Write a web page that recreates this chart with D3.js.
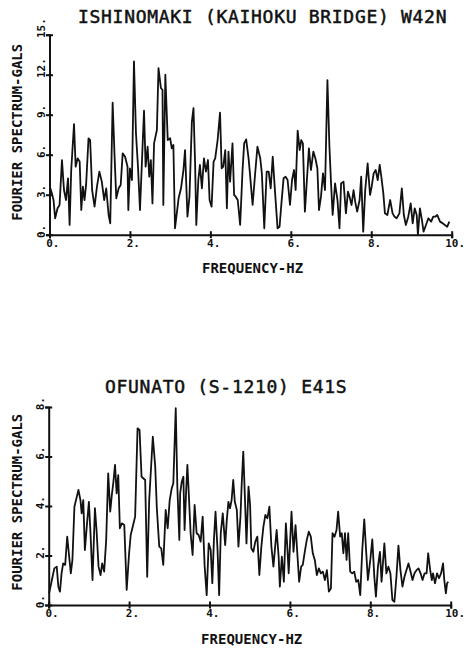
<!DOCTYPE html>
<html>
<head>
<meta charset="utf-8">
<script src="https://cdn.jsdelivr.net/npm/d3@7"></script>
<style>
  html, body { margin: 0; padding: 0; background: #fff; }
  svg text { font-family: 'DejaVu Sans Mono', monospace; fill: #111; }
</style>
</head>
<body>
<svg id="chart" width="466" height="649"></svg>
<script>
// ---- data ----
const xTicks = [0, 2, 4, 6, 8, 10];

const ishiTitle = 'ISHINOMAKI (KAIHOKU BRIDGE) W42N';
const ishiYTicks = [0, 3, 6, 9, 12, 15];
const ishiFreq = [
  0.02, 0.06, 0.10, 0.14, 0.20, 0.25, 0.31, 0.36, 0.41, 0.46, 0.50, 0.54, 0.61, 0.65, 0.70, 0.75,
  0.79, 0.83, 0.87, 0.91, 0.97, 1.01, 1.06, 1.12, 1.18, 1.24, 1.30, 1.36, 1.41, 1.47, 1.51, 1.57,
  1.62, 1.66, 1.72, 1.77, 1.82, 1.88, 1.94, 1.96, 2.00, 2.05, 2.10, 2.15, 2.20, 2.25, 2.31, 2.35,
  2.39, 2.44, 2.48, 2.52, 2.56, 2.60, 2.67, 2.71, 2.77, 2.81, 2.83, 2.88, 2.94, 3.00, 3.04, 3.08,
  3.12, 3.21, 3.27, 3.33, 3.37, 3.43, 3.48, 3.54, 3.58, 3.62, 3.65, 3.70, 3.74, 3.79, 3.84, 3.89,
  3.94, 3.98, 4.03, 4.08, 4.12, 4.18, 4.24, 4.28, 4.32, 4.37, 4.41, 4.45, 4.49, 4.55, 4.59, 4.63,
  4.68, 4.74, 4.80, 4.84, 4.89, 4.95, 4.99, 5.05, 5.11, 5.17, 5.24, 5.28, 5.34, 5.40, 5.45, 5.50,
  5.55, 5.61, 5.67, 5.72, 5.77, 5.82, 5.87, 5.92, 5.98, 6.03, 6.08, 6.12, 6.17, 6.22, 6.26, 6.30,
  6.35, 6.40, 6.45, 6.50, 6.56, 6.61, 6.66, 6.70, 6.75, 6.80, 6.85, 6.91, 6.96, 7.00, 7.04, 7.10,
  7.16, 7.21, 7.25, 7.31, 7.37, 7.42, 7.46, 7.51, 7.56, 7.60, 7.65, 7.71, 7.75, 7.80, 7.85, 7.91,
  7.97, 8.01, 8.06, 8.11, 8.16, 8.21, 8.25, 8.30, 8.34, 8.40, 8.47, 8.53, 8.58, 8.63, 8.70, 8.76,
  8.81, 8.86, 8.92, 8.98, 9.03, 9.08, 9.13, 9.16, 9.21, 9.26, 9.30, 9.36, 9.42, 9.49, 9.54, 9.59,
  9.64, 9.71, 9.78, 9.83, 9.89, 9.94,
];
const ishiAmp = [
  3.48, 3.10, 2.60, 1.23, 1.98, 2.23, 5.60, 3.35, 2.60, 4.23, 0.73, 4.85, 8.30, 5.10, 5.73, 5.48,
  1.85, 3.60, 2.60, 3.73, 7.23, 7.10, 3.35, 2.10, 3.60, 4.73, 3.98, 2.60, 3.48, 1.48, 0.85, 9.90,
  5.73, 2.73, 3.48, 3.73, 6.10, 5.85, 5.10, 1.85, 4.98, 4.10, 13.0, 7.60, 5.10, 1.85, 6.35, 9.30,
  5.10, 6.60, 4.35, 5.60, 2.35, 6.85, 7.85, 12.5, 11.0, 10.85, 2.23, 12.0, 7.10, 7.23, 6.48, 6.73,
  0.48, 2.73, 3.48, 4.85, 6.35, 1.35, 2.85, 8.48, 9.50, 5.35, 0.73, 4.10, 5.23, 3.48, 5.73, 4.73,
  5.60, 2.60, 2.10, 5.48, 5.73, 7.10, 9.15, 4.98, 5.10, 6.35, 1.98, 6.23, 3.98, 6.85, 2.98, 2.85,
  2.60, 0.73, 4.85, 6.85, 7.15, 5.73, 4.35, 2.23, 4.48, 6.60, 5.73, 4.60, 0.48, 4.73, 4.73, 3.48,
  5.85, 3.10, 0.48, 0.60, 2.48, 4.23, 4.35, 4.10, 2.23, 4.10, 4.85, 3.35, 7.80, 6.35, 7.10, 6.85,
  1.73, 4.10, 6.48, 4.85, 6.23, 5.73, 4.98, 1.85, 2.85, 4.60, 3.35, 11.6, 6.60, 3.85, 1.48, 3.85,
  2.60, 0.48, 3.85, 3.98, 1.60, 3.23, 2.85, 2.23, 3.35, 2.48, 1.73, 2.60, 4.35, 0.23, 3.35, 5.35,
  2.98, 3.60, 4.60, 4.85, 4.10, 5.23, 4.35, 3.10, 1.60, 1.48, 2.60, 1.60, 1.35, 1.23, 1.60, 3.48,
  1.48, 0.73, 1.35, 2.35, 0.85, 1.98, 1.48, 0.00, 1.98, 1.10, 0.23, 0.73, 1.23, 0.98, 1.35, 1.35,
  1.48, 0.98, 0.85, 0.73, 0.60, 0.98,
];

const ofuTitle = 'OFUNATO (S-1210) E41S';
const ofuYTicks = [0, 2, 4, 6, 8];
const ofuFreq = [
  0.01, 0.07, 0.14, 0.20, 0.24, 0.28, 0.32, 0.36, 0.41, 0.46, 0.51, 0.55, 0.59, 0.64, 0.70, 0.74,
  0.79, 0.82, 0.86, 0.90, 0.95, 1.00, 1.04, 1.09, 1.15, 1.19, 1.24, 1.29, 1.33, 1.38, 1.43, 1.48,
  1.53, 1.57, 1.61, 1.65, 1.69, 1.73, 1.77, 1.82, 1.88, 1.94, 2.00, 2.04, 2.09, 2.15, 2.21, 2.26,
  2.31, 2.40, 2.45, 2.50, 2.59, 2.65, 2.69, 2.75, 2.80, 2.85, 2.91, 2.96, 3.01, 3.06, 3.10, 3.16,
  3.20, 3.25, 3.27, 3.31, 3.35, 3.38, 3.42, 3.45, 3.49, 3.53, 3.58, 3.63, 3.68, 3.73, 3.78, 3.83,
  3.88, 3.93, 3.98, 4.03, 4.07, 4.11, 4.15, 4.20, 4.24, 4.28, 4.33, 4.39, 4.43, 4.47, 4.51, 4.55,
  4.59, 4.63, 4.68, 4.72, 4.77, 4.80, 4.84, 4.88, 4.92, 4.97, 5.01, 5.04, 5.09, 5.14, 5.19, 5.24,
  5.29, 5.34, 5.39, 5.44, 5.49, 5.54, 5.59, 5.64, 5.67, 5.72, 5.75, 5.80, 5.85, 5.90, 5.94, 5.97,
  6.00, 6.04, 6.09, 6.14, 6.19, 6.23, 6.28, 6.32, 6.37, 6.42, 6.47, 6.52, 6.57, 6.62, 6.67, 6.72,
  6.77, 6.82, 6.87, 6.92, 6.97, 7.02, 7.06, 7.11, 7.16, 7.20, 7.25, 7.29, 7.33, 7.37, 7.41, 7.45,
  7.50, 7.55, 7.60, 7.65, 7.70, 7.75, 7.80, 7.85, 7.90, 7.94, 8.00, 8.05, 8.10, 8.14, 8.19, 8.24,
  8.28, 8.35, 8.40, 8.45, 8.50, 8.55, 8.60, 8.65, 8.70, 8.75, 8.80, 8.85, 8.90, 8.95, 9.00, 9.05,
  9.10, 9.15, 9.20, 9.25, 9.30, 9.35, 9.40, 9.44, 9.49, 9.53, 9.56, 9.61, 9.66, 9.71, 9.76, 9.81,
  9.84, 9.88, 9.91, 9.94,
];
const ofuAmp = [
  0.47, 0.94, 1.48, 1.55, 0.74, 0.54, 1.28, 1.68, 1.62, 2.76, 1.95, 1.28, 1.82, 3.97, 4.38, 4.65,
  4.24, 3.70, 4.24, 2.22, 3.23, 4.17, 2.90, 1.01, 3.91, 3.03, 1.55, 1.21, 1.68, 1.35, 2.63, 5.32,
  3.77, 4.44, 4.98, 5.66, 4.51, 5.25, 3.10, 3.30, 3.23, 0.61, 2.09, 2.83, 3.16, 3.57, 7.14, 7.07,
  5.18, 5.05, 1.14, 4.24, 6.80, 5.59, 3.91, 2.36, 2.29, 1.62, 3.84, 3.10, 4.24, 4.71, 4.92, 7.95,
  4.78, 2.63, 4.51, 4.98, 5.18, 3.03, 4.65, 5.66, 4.31, 2.90, 2.02, 4.04, 2.90, 2.83, 2.56, 3.57,
  1.55, 0.40, 2.49, 2.22, 0.88, 2.63, 3.77, 2.22, 0.40, 2.90, 3.70, 2.42, 3.43, 4.17, 3.91, 4.24,
  5.05, 4.17, 3.84, 2.36, 3.57, 4.85, 6.20, 4.38, 2.49, 4.78, 4.04, 2.29, 2.15, 2.56, 2.76, 1.21,
  2.36, 3.16, 3.64, 3.50, 3.97, 2.36, 1.55, 2.49, 3.03, 1.95, 0.74, 1.95, 0.94, 3.30, 2.22, 1.28,
  2.36, 3.77, 2.15, 3.23, 1.95, 0.94, 1.55, 1.62, 2.15, 2.63, 2.96, 2.76, 2.09, 1.82, 1.21, 1.48,
  1.28, 1.35, 1.01, 1.41, 0.54, 0.67, 2.90, 2.76, 3.03, 3.77, 2.76, 2.90, 2.09, 2.90, 1.82, 2.90,
  1.35, 1.28, 1.35, 0.94, 1.01, 0.40, 2.22, 3.46, 2.09, 1.01, 1.82, 2.65, 1.14, 0.34, 1.55, 2.15,
  0.94, 2.49, 1.28, 1.55, 1.28, 0.20, 0.13, 1.14, 2.40, 1.41, 0.74, 1.14, 1.41, 1.68, 1.35, 1.01,
  1.28, 1.41, 1.48, 1.28, 1.01, 1.28, 1.28, 2.09, 1.41, 1.01, 1.28, 0.88, 1.28, 1.08, 1.28, 1.68,
  1.01, 0.47, 0.88, 0.94,
];

const svg = d3.select('#chart');
const svgW = parseInt(svg.attr('width'), 10);

// tick labels look like "0.", "3.", "10." on the original plotter output
const fmt = d => `${d}.`;
const CHAR_W = 6.6; // width of one 11px tick label glyph

function drawPanel(opts) {
  const x = d3.scaleLinear().domain([0, 10]).range(opts.xRange);
  const y = d3.scaleLinear().domain([0, opts.yMax]).range(opts.yRange);

  const g = svg.append('g');

  // title + axis titles
  g.append('text')
    .attr('x', opts.titleX)
    .attr('y', opts.titleY)
    .style('font-size', '18px')
    .style('letter-spacing', '0.7px')
    .style('stroke', '#111')
    .style('stroke-width', 0.5)
    .text(opts.title);

  g.append('text')
    .attr('x', x(5) + 2)
    .attr('y', opts.yRange[0] + 38.5)
    .attr('text-anchor', 'middle')
    .style('font-size', '14px')
    .style('font-weight', 'bold')
    .text('FREQUENCY-HZ');

  g.append('text')
    .attr('transform', `translate(21.7, ${opts.yLabelMid}) rotate(-90)`)
    .attr('text-anchor', 'middle')
    .style('font-size', '14px')
    .style('font-weight', 'bold')
    .text('FOURIER SPECTRUM-GALS');

  // axes: ticks cross the axis line on both sides
  const xAxis = g.append('g')
    .attr('transform', `translate(0, ${opts.yRange[0]})`)
    .call(d3.axisBottom(x).tickValues(xTicks).tickSize(3.5).tickFormat(''));
  xAxis.selectAll('.tick line').attr('y1', -3.5);

  const yAxis = g.append('g')
    .attr('transform', `translate(${opts.xRange[0]}, 0)`)
    .call(d3.axisLeft(y).tickValues(opts.yTicks).tickSize(3.5).tickFormat(''));
  yAxis.selectAll('.tick line').attr('x1', 3.5);

  [xAxis, yAxis].forEach(a => {
    a.select('.domain').attr('stroke', '#111').attr('stroke-width', 2);
    a.selectAll('.tick line').attr('stroke', '#111').attr('stroke-width', 2);
  });

  // tick labels, first glyph centred on the tick (kept inside the page)
  g.selectAll('text.xlab')
    .data(xTicks)
    .enter()
    .append('text')
      .classed('xlab', true)
      .attr('x', d => Math.min(x(d) - CHAR_W / 2, svgW - 1 - fmt(d).length * CHAR_W))
      .attr('y', opts.yRange[0] + 12)
      .style('font-size', '11px')
      .style('font-weight', 'bold')
      .text(fmt);

  g.selectAll('text.ylab')
    .data(opts.yTicks)
    .enter()
    .append('text')
      .classed('ylab', true)
      .attr('transform', d => `translate(${opts.xRange[0] - 4.5}, ${y(d) + CHAR_W / 2}) rotate(-90)`)
      .style('font-size', '11px')
      .style('font-weight', 'bold')
      .text(fmt);

  // spectrum curve
  const line = d3.line()
    .x(d => x(d[0]))
    .y(d => y(d[1]));

  g.append('path')
    .datum(d3.zip(opts.freq, opts.amp))
    .attr('fill', 'none')
    .attr('stroke', '#111')
    .attr('stroke-width', 1.8)
    .attr('stroke-linejoin', 'round')
    .attr('d', line);
}

drawPanel({
  title: ishiTitle,
  titleX: 78,
  titleY: 22.7,
  yMax: 15,
  yTicks: ishiYTicks,
  xRange: [49.5, 451.7],
  yRange: [234.7, 34.7],
  yLabelMid: 132.3,
  freq: ishiFreq,
  amp: ishiAmp,
});

drawPanel({
  title: ofuTitle,
  titleX: 105,
  titleY: 393.3,
  yMax: 8,
  yTicks: ofuYTicks,
  xRange: [48.7, 450.7],
  yRange: [605, 407],
  yLabelMid: 502.2,
  freq: ofuFreq,
  amp: ofuAmp,
});
</script>
</body>
</html>
